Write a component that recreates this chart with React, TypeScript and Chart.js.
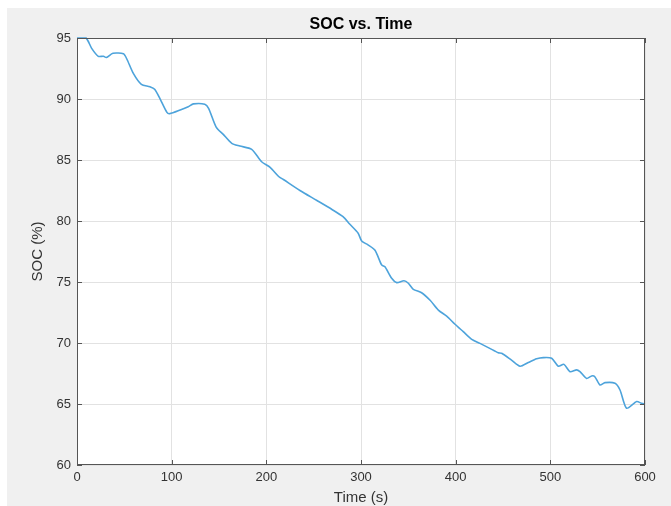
import React, { useEffect, useRef } from "react";
import { Chart, registerables } from "chart.js";

Chart.register(...registerables);

const timeS: number[] = [0, 9.5, 15.5, 22.5, 28, 31, 38, 49, 52.5, 59.5, 68, 77, 82, 87.5, 95, 98, 109, 117.5, 123, 135, 139, 147, 154.5, 163.5, 172, 184.5, 195, 204, 213, 218, 235.5, 253, 269, 281, 288, 297, 300.7, 307.7, 314.8, 321.8, 325.3, 332.4, 337.7, 345.4, 350, 355.3, 364, 373, 381.7, 390.5, 399, 408, 417, 425.7, 436, 445, 448.6, 459, 468, 476.7, 485.5, 492.6, 501.4, 508.4, 514.4, 520.8, 527.8, 531.3, 538.3, 543.6, 547, 552.4, 557.7, 568.3, 573.6, 580.6, 591.2, 596.5, 600];
const socPct: number[] = [95, 95, 94.15, 93.5, 93.5, 93.4, 93.75, 93.7, 93.3, 92.1, 91.2, 91.0, 90.8, 90.05, 88.9, 88.8, 89.1, 89.37, 89.6, 89.57, 89.24, 87.7, 87.1, 86.37, 86.15, 85.87, 84.86, 84.4, 83.65, 83.4, 82.5, 81.7, 80.96, 80.35, 79.75, 79.0, 78.36, 78.03, 77.6, 76.4, 76.25, 75.3, 74.95, 75.1, 74.9, 74.4, 74.12, 73.5, 72.7, 72.2, 71.56, 70.93, 70.3, 69.97, 69.56, 69.2, 69.16, 68.6, 68.1, 68.4, 68.7, 68.8, 68.75, 68.1, 68.25, 67.65, 67.8, 67.65, 67.1, 67.3, 67.24, 66.56, 66.75, 66.7, 66.15, 64.65, 65.2, 65.05, 65.0];

const xTicks = { min: 0, max: 600, step: 100 };
const yTicks = { min: 60, max: 95, step: 5 };
const chartTitle = "SOC vs. Time";

const FONT = "'Liberation Sans', Arial, Helvetica, sans-serif";
const AXIS_COLOR = "#555555";
const TEXT_COLOR = "#333333";

const framePlugin = {
  id: "frame",
  beforeDraw(chart: any) {
    const { ctx, width, height, chartArea } = chart;
    ctx.save();
    ctx.fillStyle = "#ffffff";
    ctx.fillRect(0, 0, width, height);
    ctx.fillStyle = "#f0f0f0";
    ctx.fillRect(7, 8, width - 7, height - 8);
    ctx.fillStyle = "#ffffff";
    ctx.fillRect(chartArea.left, chartArea.top, chartArea.right - chartArea.left, chartArea.bottom - chartArea.top);
    ctx.restore();
  },
  afterDraw(chart: any) {
    const { ctx, chartArea } = chart;
    const { left, right, top, bottom } = chartArea;
    const xs = chart.scales.x;
    const ys = chart.scales.y;
    ctx.save();
    ctx.strokeStyle = AXIS_COLOR;
    ctx.lineWidth = 1;
    ctx.strokeRect(left + 0.5, top + 0.5, right - left - 1, bottom - top - 1);
    const tl = 5;
    ctx.beginPath();
    xs.ticks.forEach((t: any) => {
      const px = Math.round(xs.getPixelForValue(t.value)) + 0.5;
      ctx.moveTo(px, bottom);
      ctx.lineTo(px, bottom - tl);
      ctx.moveTo(px, top);
      ctx.lineTo(px, top + tl);
    });
    ys.ticks.forEach((t: any) => {
      const py = Math.round(ys.getPixelForValue(t.value)) + 0.5;
      ctx.moveTo(left, py);
      ctx.lineTo(left + tl, py);
      ctx.moveTo(right, py);
      ctx.lineTo(right - tl, py);
    });
    ctx.stroke();
    ctx.fillStyle = "#000000";
    ctx.font = `bold 16px ${FONT}`;
    ctx.textAlign = "center";
    ctx.textBaseline = "middle";
    ctx.fillText(chartTitle, (left + right) / 2, 25);
    ctx.restore();
  },
};

export default function App() {
  const ref = useRef<HTMLCanvasElement | null>(null);
  useEffect(() => {
    if (!ref.current) return;
    const points = timeS.map((t, i) => ({ x: t, y: socPct[i] }));
    const chart = new Chart(ref.current, {
      type: "line",
      data: {
        datasets: [
          {
            label: "SOC",
            data: points,
            borderColor: "#4DA3DB",
            borderWidth: 1.6,
            pointRadius: 0,
            tension: 0.25,
            fill: false,
            clip: 2,
          },
        ],
      },
      options: {
        responsive: false,
        animation: false,
        layout: { padding: { left: 0, right: 26, top: 38, bottom: 0 } },
        plugins: {
          legend: { display: false },
          tooltip: { enabled: false },
          title: { display: false },
        },
        scales: {
          x: {
            type: "linear",
            min: xTicks.min,
            max: xTicks.max,
            afterFit: (s: any) => {
              s.height = 41;
            },
            ticks: {
              stepSize: xTicks.step,
              color: TEXT_COLOR,
              font: { family: FONT, size: 13 },
              padding: 5,
              maxRotation: 0,
            },
            grid: { color: "#e2e2e2", drawTicks: false },
            border: { display: false },
            title: {
              display: true,
              text: "Time (s)",
              color: TEXT_COLOR,
              font: { family: FONT, size: 15 },
              padding: { top: 0, bottom: -1 },
            },
          },
          y: {
            type: "linear",
            min: yTicks.min,
            max: yTicks.max,
            afterFit: (s: any) => {
              s.width = 77;
            },
            ticks: {
              stepSize: yTicks.step,
              color: TEXT_COLOR,
              font: { family: FONT, size: 13 },
              padding: 6,
            },
            grid: { color: "#e2e2e2", drawTicks: false },
            border: { display: false },
            title: {
              display: true,
              text: "SOC (%)",
              color: TEXT_COLOR,
              font: { family: FONT, size: 15 },
              padding: { top: 29, bottom: 0 },
            },
          },
        },
      },
      plugins: [framePlugin],
    });
    return () => chart.destroy();
  }, []);
  return (
    <div style={{ position: "absolute", left: 0, top: 0, width: 671, height: 506 }}>
      <canvas ref={ref} width={671} height={506} style={{ display: "block" }} />
    </div>
  );
}
